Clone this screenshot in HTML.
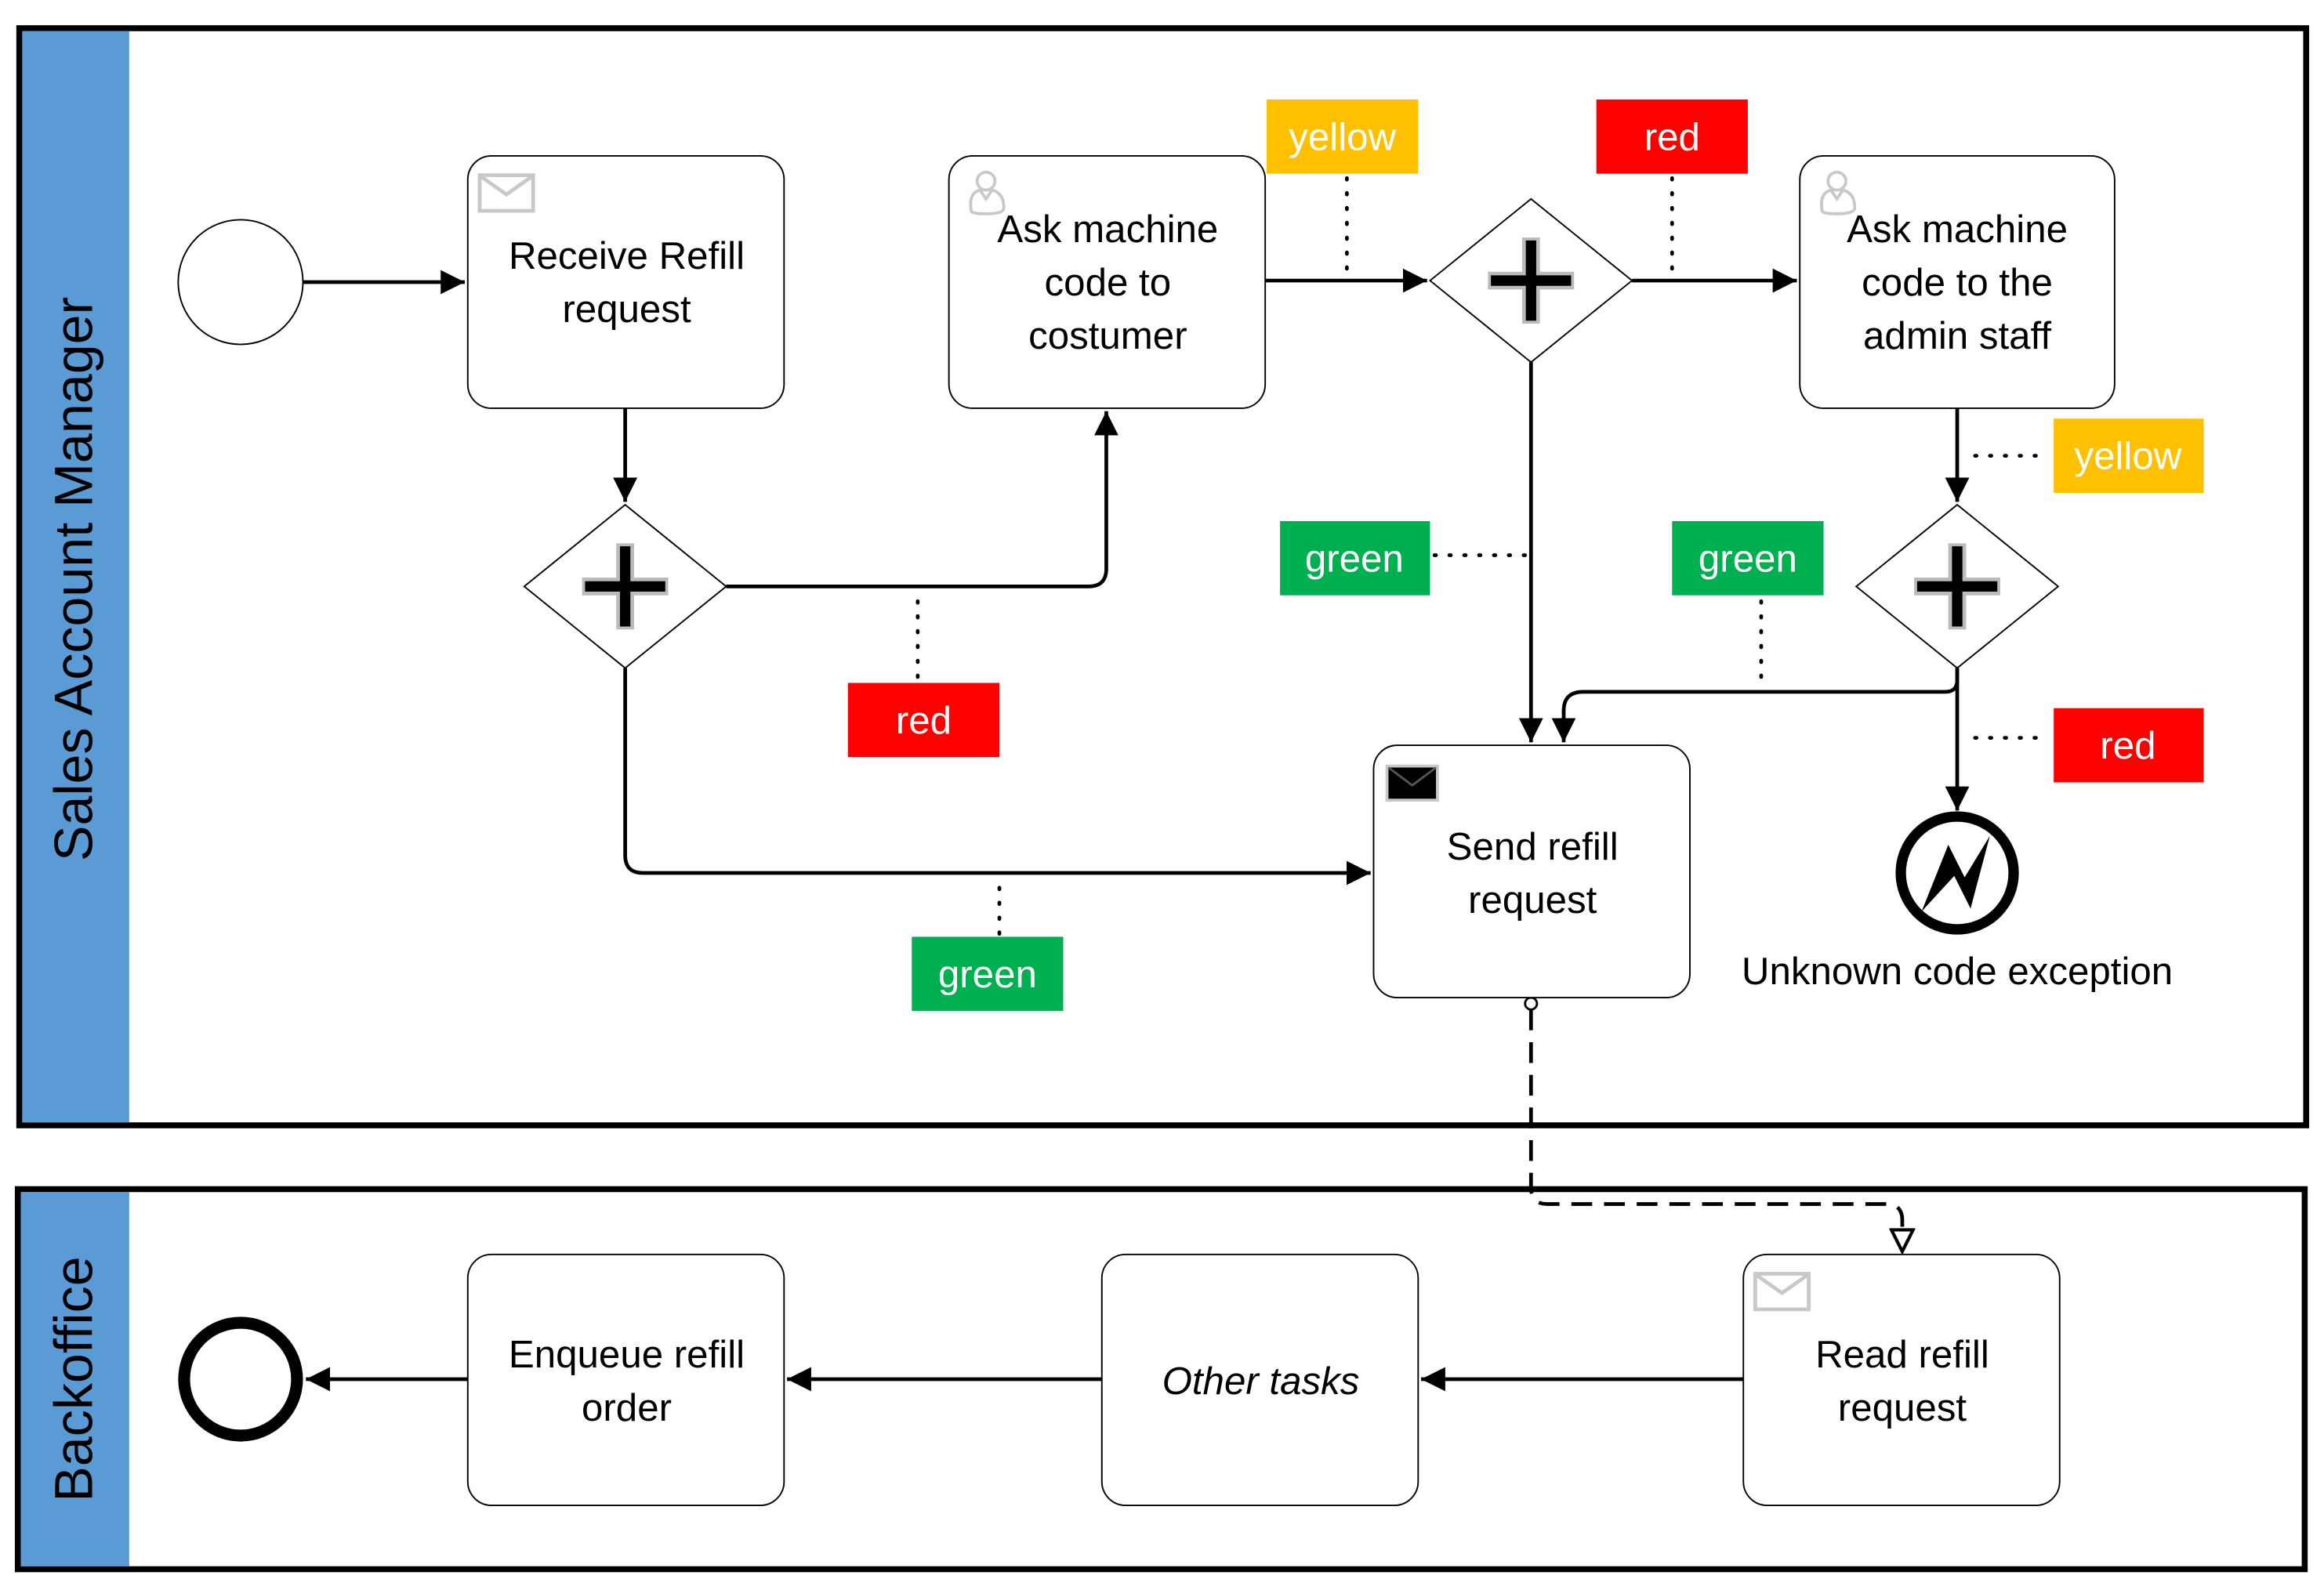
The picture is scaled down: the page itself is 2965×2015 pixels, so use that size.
<!DOCTYPE html>
<html><head><meta charset="utf-8"><style>
html,body{margin:0;padding:0;background:#fff}
svg{display:block}
text{font-family:"Liberation Sans",sans-serif}
</style></head><body>
<svg width="2965" height="2015" viewBox="0 0 1565 1063.6" preserveAspectRatio="none" xmlns="http://www.w3.org/2000/svg">
<defs>
<marker id="a" viewBox="0 0 10 10" refX="10" refY="5" markerWidth="6.5" markerHeight="6.5" markerUnits="strokeWidth" orient="auto"><path d="M0,0 L10,5 L0,10 z" fill="#000"/></marker>
<marker id="o" viewBox="0 0 12 12" refX="11" refY="6" markerWidth="7" markerHeight="7" markerUnits="strokeWidth" orient="auto"><path d="M1,1 L11,6 L1,11 z" fill="#fff" stroke="#000" stroke-width="1.5"/></marker>
<g id="plus"><path d="M-29,0 H29 M0,-29 V29" stroke="#bbb" stroke-width="12"/><path d="M-27,0 H27 M0,-27 V27" stroke="#000" stroke-width="7"/></g>
<g id="env"><rect x="0" y="0" width="36" height="24" fill="none" stroke="#c8c8c8" stroke-width="2.5"/><path d="M1,1 L18,13 L35,1" fill="none" stroke="#c8c8c8" stroke-width="2.5"/></g>
<g id="usr" fill="none" stroke="#c8c8c8" stroke-width="2"><circle cx="12" cy="8" r="6"/><path d="M2,28 Q0,16 8,14 L12,20 L16,14 Q24,16 24,26 Q24,30 12,30 Q2,30 2,28 z"/></g>
</defs>
<rect x="13" y="19" width="1540" height="739" fill="#fff" stroke="#000" stroke-width="4"/>
<rect x="15" y="21" width="72" height="735" fill="#5b9bd5"/>
<text transform="translate(62,390) rotate(-90)" text-anchor="middle" font-size="36">Sales Account Manager</text>
<rect x="12" y="801" width="1540" height="256" fill="#fff" stroke="#000" stroke-width="4"/>
<rect x="14" y="803" width="73" height="252" fill="#5b9bd5"/>
<text transform="translate(62,929) rotate(-90)" text-anchor="middle" font-size="36">Backoffice</text>

<g fill="none" stroke="#000" stroke-width="2.5">
<path d="M204,190 H313" marker-end="url(#a)"/>
<path d="M421,275 V338" marker-end="url(#a)"/>
<path d="M489,395 H733 Q745,395 745,383 V277" marker-end="url(#a)"/>
<path d="M421,450 V576 Q421,588 433,588 H923" marker-end="url(#a)"/>
<path d="M852,189 H961" marker-end="url(#a)"/>
<path d="M1099,189 H1210" marker-end="url(#a)"/>
<path d="M1031,244 V500" marker-end="url(#a)"/>
<path d="M1318,275 V338" marker-end="url(#a)"/>
<path d="M1318,450 V458 Q1318,466 1310,466 H1066 Q1053,466 1053,479 V500" marker-end="url(#a)"/>
<path d="M1318,450 V546" marker-end="url(#a)"/>
<path d="M1174,929 H957" marker-end="url(#a)"/>
<path d="M742,929 H530" marker-end="url(#a)"/>
<path d="M315,929 H206" marker-end="url(#a)"/>
</g>
<circle cx="1031" cy="676" r="4" fill="#fff" stroke="#000" stroke-width="1.5"/>
<path d="M1031,680 V800 Q1031,811 1042,811 H1270 Q1281,811 1281,822 V843" fill="none" stroke="#000" stroke-width="2.5" stroke-dasharray="14,8" marker-end="url(#o)"/>
<g stroke="#000" stroke-width="2.5" stroke-dasharray="1,9" stroke-linecap="round" fill="none">
<path d="M907,120 V186"/><path d="M1126,120 V186"/><path d="M1330,307 H1380"/>
<path d="M966,374 H1030"/><path d="M1186,405 V462"/><path d="M618,405 V458"/>
<path d="M1330,497 H1380"/><path d="M673,598 V630"/>
</g>
<circle cx="162" cy="190" r="42" fill="#fff" stroke="#000" stroke-width="1"/>
<circle cx="162" cy="929" r="38" fill="#fff" stroke="#000" stroke-width="8"/>
<circle cx="1318" cy="588" r="38" fill="#fff" stroke="#000" stroke-width="7"/>
<path d="M1294,614 L1312,569 L1323,591 L1340,563 L1327,612 L1316,590 z" fill="#000"/>
<text x="1318" y="663" text-anchor="middle" font-size="26">Unknown code exception</text>
<g fill="#fff" stroke="#000" stroke-width="1">
<rect x="315" y="105" width="213" height="170" rx="16"/>
<rect x="639" y="105" width="213" height="170" rx="16"/>
<rect x="1212" y="105" width="212" height="170" rx="16"/>
<rect x="925" y="502" width="213" height="170" rx="16"/>
<rect x="315" y="845" width="213" height="169" rx="16"/>
<rect x="742" y="845" width="213" height="169" rx="16"/>
<rect x="1174" y="845" width="213" height="169" rx="16"/>
</g>
<use href="#env" x="323" y="118"/>
<use href="#env" x="1182" y="858"/>
<rect x="934" y="516" width="34" height="23" fill="#000" stroke="#c8c8c8" stroke-width="2"/>
<path d="M935,517 L951,529 L967,517" fill="none" stroke="#555" stroke-width="1.5"/>
<use href="#usr" x="652" y="114"/>
<use href="#usr" x="1225" y="114"/>
<g font-size="26" text-anchor="middle">
<text x="422" y="181">Receive Refill</text><text x="422" y="217">request</text>
<text x="746" y="163">Ask machine</text><text x="746" y="199">code to</text><text x="746" y="235">costumer</text>
<text x="1318" y="163">Ask machine</text><text x="1318" y="199">code to the</text><text x="1318" y="235">admin staff</text>
<text x="1032" y="579">Send refill</text><text x="1032" y="615">request</text>
<text x="422" y="921">Enqueue refill</text><text x="422" y="957">order</text>
<text x="849" y="939" font-style="italic">Other tasks</text>
<text x="1281" y="921">Read refill</text><text x="1281" y="957">request</text>
</g>
<g fill="#fff" stroke="#000" stroke-width="1">
<path d="M353,395 L421,340 L489,395 L421,450 z"/>
<path d="M963,189 L1031,134 L1099,189 L1031,244 z"/>
<path d="M1250,395 L1318,340 L1386,395 L1318,450 z"/>
</g>
<use href="#plus" x="421" y="395"/><use href="#plus" x="1031" y="189"/><use href="#plus" x="1318" y="395"/>
<g font-size="26" text-anchor="middle" fill="#fff">
<rect x="853" y="67" width="102" height="50" fill="#ffc000"/><text x="904" y="101">yellow</text>
<rect x="1075" y="67" width="102" height="50" fill="#ff0000"/><text x="1126" y="101">red</text>
<rect x="1383" y="282" width="101" height="50" fill="#ffc000"/><text x="1433" y="316">yellow</text>
<rect x="862" y="351" width="101" height="50" fill="#00b050"/><text x="912" y="385">green</text>
<rect x="1126" y="351" width="102" height="50" fill="#00b050"/><text x="1177" y="385">green</text>
<rect x="571" y="460" width="102" height="50" fill="#ff0000"/><text x="622" y="494">red</text>
<rect x="1383" y="477" width="101" height="50" fill="#ff0000"/><text x="1433" y="511">red</text>
<rect x="614" y="631" width="102" height="50" fill="#00b050"/><text x="665" y="665">green</text>
</g>
</svg>
</body></html>
